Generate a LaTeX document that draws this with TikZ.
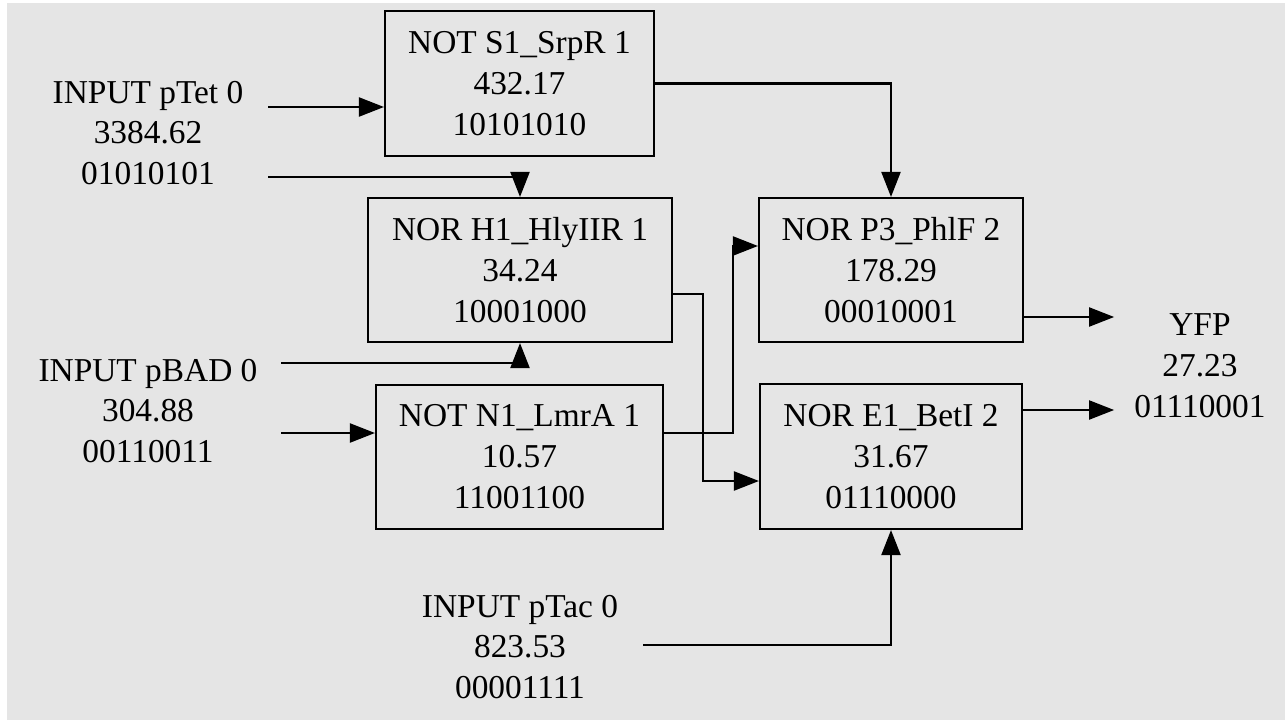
\documentclass[tikz,border=0pt]{standalone}
\usepackage{fontspec}
\setmainfont{Liberation Serif}
\usetikzlibrary{arrows.meta}
\definecolor{bggray}{HTML}{E5E5E5}

\tikzset{
  gate/.style={draw, line width=1.2pt, align=center, inner sep=0pt, minimum height=2.88cm},
  io/.style={align=center, inner sep=0pt},
  wire/.style={line width=1.2pt, -{Triangle[length=0.5cm,width=0.38cm]}}
}

\begin{document}
\begin{tikzpicture}[x=0.02cm, y=-0.02cm, font=\fontsize{19}{23.3}\selectfont]
    % Background
    \useasboundingbox (0,0) rectangle (1285,720);
    \fill[white] (0,0) rectangle (1285,720);
    \fill[bggray] (7,3) rectangle (1285,720);

    % Gates
    \node[gate, minimum width=5.38cm, minimum height=2.9cm] (S1) at (519.5,83.5) {NOT S1\_SrpR 1\\432.17\\10101010};
    \node[gate, minimum width=6.08cm] (H1) at (520,270) {NOR H1\_HlyIIR 1\\34.24\\10001000};
    \node[gate, minimum width=5.74cm] (N1) at (519.5,457) {NOT N1\_LmrA 1\\10.57\\11001100};
    \node[gate, minimum width=5.28cm] (P3) at (891,270) {NOR P3\_PhlF 2\\178.29\\00010001};
    \node[gate, minimum width=5.24cm, minimum height=2.9cm] (E1) at (891,456.5) {NOR E1\_BetI 2\\31.67\\01110000};

    % Inputs and output
    \node[io] (pTet) at (148,133) {INPUT pTet 0\\3384.62\\01010101};
    \node[io] (pBAD) at (148,411) {INPUT pBAD 0\\304.88\\00110011};
    \node[io] (pTac) at (520,647) {INPUT pTac 0\\823.53\\00001111};
    \node[io] (YFP) at (1200,366) {YFP\\27.23\\01110001};

    % Ports
    \coordinate (tet1) at (268,107);
    \coordinate (tet2) at (268,177);
    \coordinate (bad1) at (281,363);
    \coordinate (bad2) at (281,433);
    \coordinate (tac1) at (643,645);
    \coordinate (h1o) at (H1.east |- 0,294);
    \coordinate (n1o) at (N1.east |- 0,433);
    \coordinate (p3i) at (P3.west |- 0,246);
    \coordinate (e1i) at (E1.west |- 0,481);
    \coordinate (p3o) at (P3.east |- 0,317);
    \coordinate (e1o) at (E1.east |- 0,410);

    % Wires
    \draw[wire] (tet1) -- (tet1 -| S1.west);
    \draw[wire] (tet2) -| (H1.north);
    \draw[wire] (bad1) -| (H1.south);
    \draw[wire] (bad2) -- (bad2 -| N1.west);
    \draw[wire] (tac1) -| (E1.south);
    \draw[wire] (S1.east) -| (P3.north);
    \draw[wire] (h1o) -- ++(30,0) |- (e1i);
    \draw[wire] (n1o) -- ++(69,0) |- (p3i);
    \draw[wire, shorten >=0.4cm] (p3o) -- (p3o -| YFP.west);
    \draw[wire, shorten >=0.4cm] (e1o) -- (e1o -| YFP.west);
\end{tikzpicture}
\end{document}
